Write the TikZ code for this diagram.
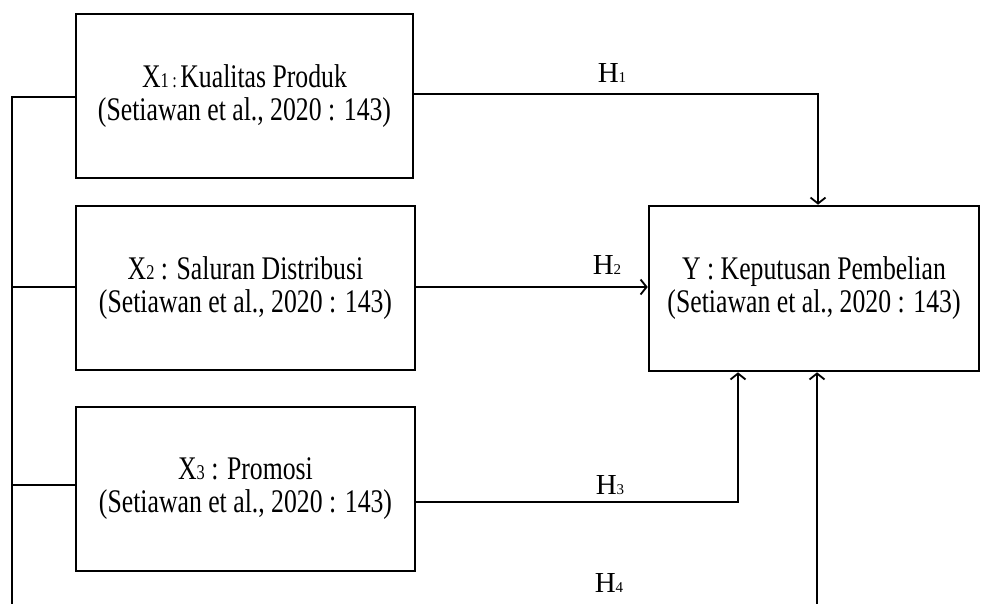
\documentclass[tikz,border=0pt]{standalone}
\usepackage{fontspec}
\setmainfont[FakeStretch=0.78]{Liberation Serif}
\newfontfamily\hfont{Liberation Serif}
\usetikzlibrary{arrows.meta}
\newcommand{\sbs}[1]{{\fontsize{21}{21}\selectfont #1}}
\newcommand{\hsb}[1]{{\fontsize{15}{15}\selectfont #1}}
\begin{document}
\begin{tikzpicture}[x=1pt,y=-1pt,
  xbox/.style={draw, line width=2.6pt, minimum width=339pt, minimum height=164pt,
    align=center, inner sep=0pt, font=\fontsize{33}{33}\selectfont},
  conn/.style={line width=2.1pt},
  arr/.style={conn, -{Straight Barb[length=6pt,width=15pt,line width=1.8pt]}},
  hlab/.style={inner sep=0pt, font=\hfont\fontsize{29}{29}\selectfont}]
\useasboundingbox (0,0) rectangle (982,603);
\clip (0,0) rectangle (982,603);
\fill[white] (0,0) rectangle (982,603);

\node[xbox, minimum width=337pt] (X1) at (244.5,96)
  {X\sbs{1\,:\,}Kualitas Produk\\(Setiawan et al., 2020 : 143)};
\node[xbox] (X2) at (245.5,288)
  {X\sbs{2} : Saluran Distribusi\\(Setiawan et al., 2020 : 143)};
\node[xbox] (X3) at (245.5,489)
  {X\sbs{3} : Promosi\\(Setiawan et al., 2020 : 143)};
\node[xbox, minimum width=330pt, minimum height=165pt] (Y) at (814,288.5)
  {Y : Keputusan Pembelian\\(Setiawan et al., 2020 : 143)};

\coordinate (b1) at (12,97);
\coordinate (b2) at (12,287);
\coordinate (b3) at (12,485);
\coordinate (bb) at (12,615);
\coordinate (h4b) at (817,615);
\coordinate (h1c) at (818,94);
\coordinate (h3c) at (738,502);

\draw[conn] (X1.west |- b1) -- (b1) -- (bb);
\draw[conn] (X2.west |- b2) -- (b2);
\draw[conn] (X3.west |- b3) -- (b3);
\draw[arr] (X1.east |- h1c) -- (h1c) -- (Y.north -| h1c);
\draw[arr] (X2.east |- b2) -- (Y.west |- b2);
\draw[arr] (X3.east |- h3c) -- (h3c) -- (Y.south -| h3c);
\draw[arr] (bb) -- (h4b) -- (Y.south -| h4b);

\node[hlab] (H1) at (612,73) {H\hsb{1}};
\node[hlab] (H2) at (607,265) {H\hsb{2}};
\node[hlab] (H3) at (610,485) {H\hsb{3}};
\node[hlab] (H4) at (609,583) {H\hsb{4}};
\end{tikzpicture}
\end{document}
